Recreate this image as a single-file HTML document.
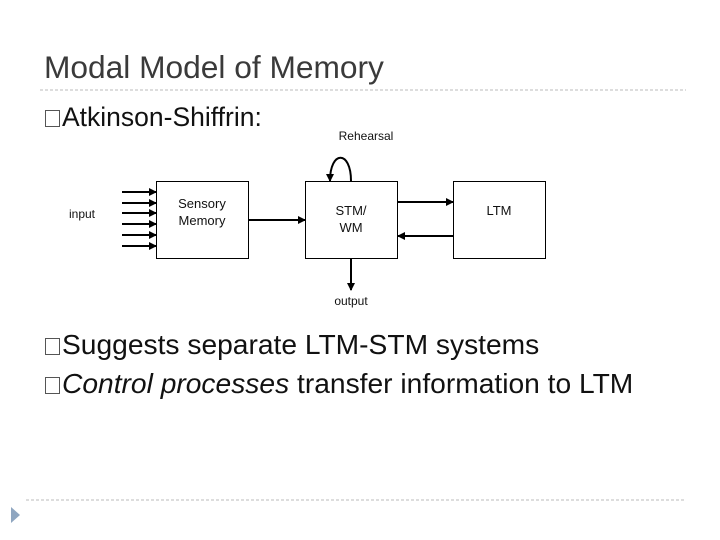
<!DOCTYPE html>
<html><head><meta charset="utf-8"><style>
body{margin:0;width:720px;height:540px;background:#fff;overflow:hidden;position:relative;font-family:"Liberation Sans",sans-serif}
.t{position:absolute;white-space:nowrap;line-height:1}
.b{display:inline-block;width:13px;height:15px;border:1px solid #555;margin:0 2px 0 1px;vertical-align:-1px}
</style></head><body>
<div class="t" style="left:44px;top:52px;font-size:31.7px;color:#3a3a3a">Modal Model of Memory</div>
<div class="t" style="left:44px;top:104px;font-size:26.5px;color:#111"><span class="b"></span>Atkinson-Shiffrin:</div>
<div class="t" style="left:44px;top:330px;font-size:28.2px;color:#111"><span class="b"></span>Suggests separate LTM-STM systems</div>
<div class="t" style="left:44px;top:369px;font-size:28.2px;color:#111"><span class="b"></span><i>Control processes</i> transfer information to LTM</div>
<svg width="720" height="540" style="position:absolute;left:0;top:0">
<defs><marker id="a" markerWidth="8" markerHeight="8" refX="7" refY="4" orient="auto" markerUnits="userSpaceOnUse"><path d="M0,0 L8,4 L0,8z" fill="#000"/></marker></defs>
<line x1="40" y1="90" x2="686" y2="90" stroke="#bbb" stroke-dasharray="3,2"/>
<line x1="26" y1="500" x2="686" y2="500" stroke="#bbb" stroke-dasharray="3,2"/>
<path d="M11,507 L20,515 L11,523z" fill="#8fa6c0"/>
<g stroke="#000" stroke-width="1" fill="none">
<rect x="156.5" y="181.5" width="92" height="77"/>
<rect x="305.5" y="181.5" width="92" height="77"/>
<rect x="453.5" y="181.5" width="92" height="77"/>
</g>
<g stroke="#000" stroke-width="2" marker-end="url(#a)">
<line x1="122" y1="192" x2="156" y2="192"/>
<line x1="122" y1="203" x2="156" y2="203"/>
<line x1="122" y1="213" x2="156" y2="213"/>
<line x1="122" y1="224" x2="156" y2="224"/>
<line x1="122" y1="235" x2="156" y2="235"/>
<line x1="122" y1="246" x2="156" y2="246"/>
<line x1="249" y1="220" x2="305" y2="220"/>
<line x1="398" y1="202" x2="453" y2="202"/>
<line x1="453" y1="236" x2="398" y2="236"/>
<line x1="351" y1="259" x2="351" y2="290"/>
<path d="M351,181 C351,150 330,150 330,181" fill="none"/>
</g>
<g font-size="13" fill="#111" text-anchor="middle">
<text x="366" y="140" font-size="12">Rehearsal</text>
<text x="82" y="218" font-size="12">input</text>
<text x="202" y="208">Sensory</text><text x="202" y="225">Memory</text>
<text x="351" y="215">STM/</text><text x="351" y="232">WM</text>
<text x="499" y="215">LTM</text>
<text x="351" y="305" font-size="12">output</text>
</g>
</svg>
</body></html>
